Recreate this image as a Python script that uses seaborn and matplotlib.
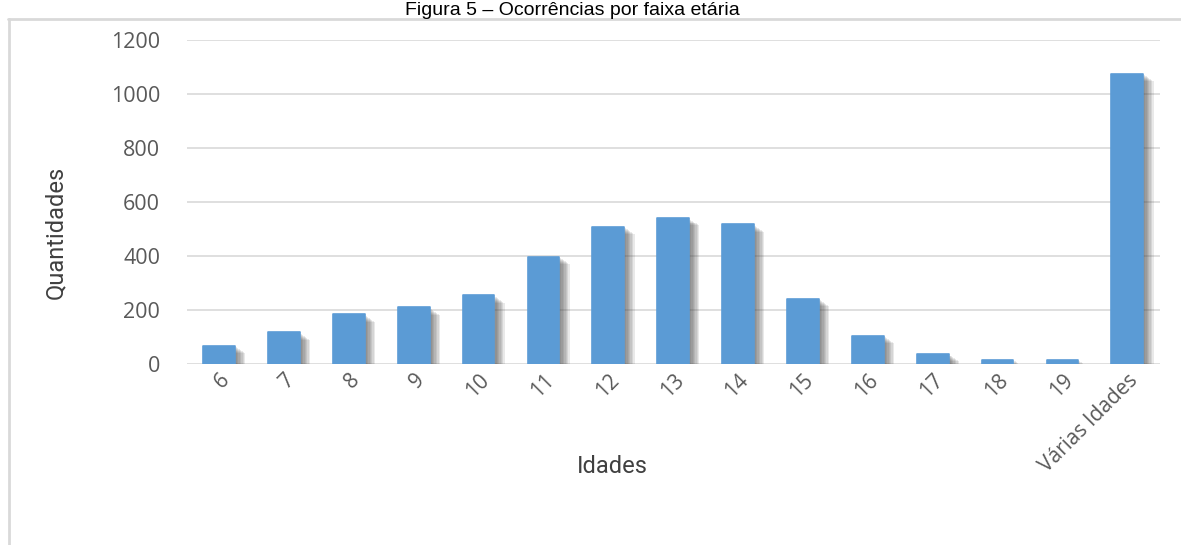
import matplotlib
matplotlib.use("Agg")
import matplotlib.pyplot as plt
import matplotlib.patheffects as pe
from matplotlib.lines import Line2D
import seaborn as sns
import pandas as pd

# Occurrences per age group
idades = ["6", "7", "8", "9", "10", "11", "12", "13", "14", "15", "16", "17", "18", "19", "Várias Idades"]
quantidades = [68, 117, 184, 210, 254, 397, 508, 540, 517, 242, 104, 37, 16, 16, 1075]
y_ticks = [0, 200, 400, 600, 800, 1000, 1200]

df = pd.DataFrame({"Idades": idades, "Quantidades": quantidades})

sns.set_theme(style="white")
plt.rcParams["font.family"] = ["Open Sans", "DejaVu Sans"]

fig = plt.figure(figsize=(11.81, 5.45), dpi=100)
ax = fig.add_axes([0.158, 0.332, 0.824, 0.595])

sns.barplot(data=df, x="Idades", y="Quantidades", color="#5B9BD5",
            width=0.49, saturation=1, ax=ax, zorder=3)

# soft drop shadow built from stacked offsets
shadow = [pe.SimplePatchShadow(offset=(d, -d * 0.7), shadow_rgbFace="#4a4a4a", alpha=0.12)
          for d in (1.5, 2.5, 3.5, 4.5, 5.5, 6.5, 7.5)]
for p in ax.patches:
    p.set_edgecolor("#5B9BD5")
    p.set_linewidth(1.2)
    p.set_joinstyle("round")
    p.set_path_effects(shadow + [pe.Normal()])

ax.set_ylim(0, 1200)
ax.set_xlim(-0.5, len(idades) - 0.5)
ax.set_yticks(y_ticks)
ax.set_yticklabels([str(v) for v in y_ticks], fontsize=15.5, color="#595959")
ax.set_xticks(range(len(idades)))
ax.set_xticklabels(idades, rotation=45, ha="right", rotation_mode="anchor",
                   fontsize=15, color="#595959")
ax.tick_params(axis="y", length=0, pad=19)
ax.tick_params(axis="x", length=0, pad=4)
for s in ax.spines.values():
    s.set_visible(False)
ax.yaxis.grid(True, color="#D9D9D9", linewidth=1.2, zorder=0)
ax.set_axisbelow(True)

narrow = ["Liberation Sans Narrow", "Roboto", "DejaVu Sans"]
ax.set_xlabel("Idades", fontsize=17, color="#404040", family=narrow)
ax.set_ylabel("Quantidades", fontsize=17, color="#404040", family=narrow)
ax.xaxis.set_label_coords(0.437, -0.281)
ax.yaxis.set_label_coords(-0.123, 0.407)

# outer chart frame
frame_y = 1 - 19 / 545
fig.add_artist(Line2D([8 / 1181, 1], [frame_y, frame_y], transform=fig.transFigure,
                      color="#D9D9D9", linewidth=2))
fig.add_artist(Line2D([9 / 1181, 9 / 1181], [0, frame_y], transform=fig.transFigure,
                      color="#D9D9D9", linewidth=2))

fig.text(572 / 1181, 1 - 15 / 545, "Figura 5 – Ocorrências por faixa etária",
         ha="center", va="baseline", fontsize=14, color="#000000",
         family=["Liberation Sans", "DejaVu Sans"])

fig.savefig("out.png", dpi=100)
